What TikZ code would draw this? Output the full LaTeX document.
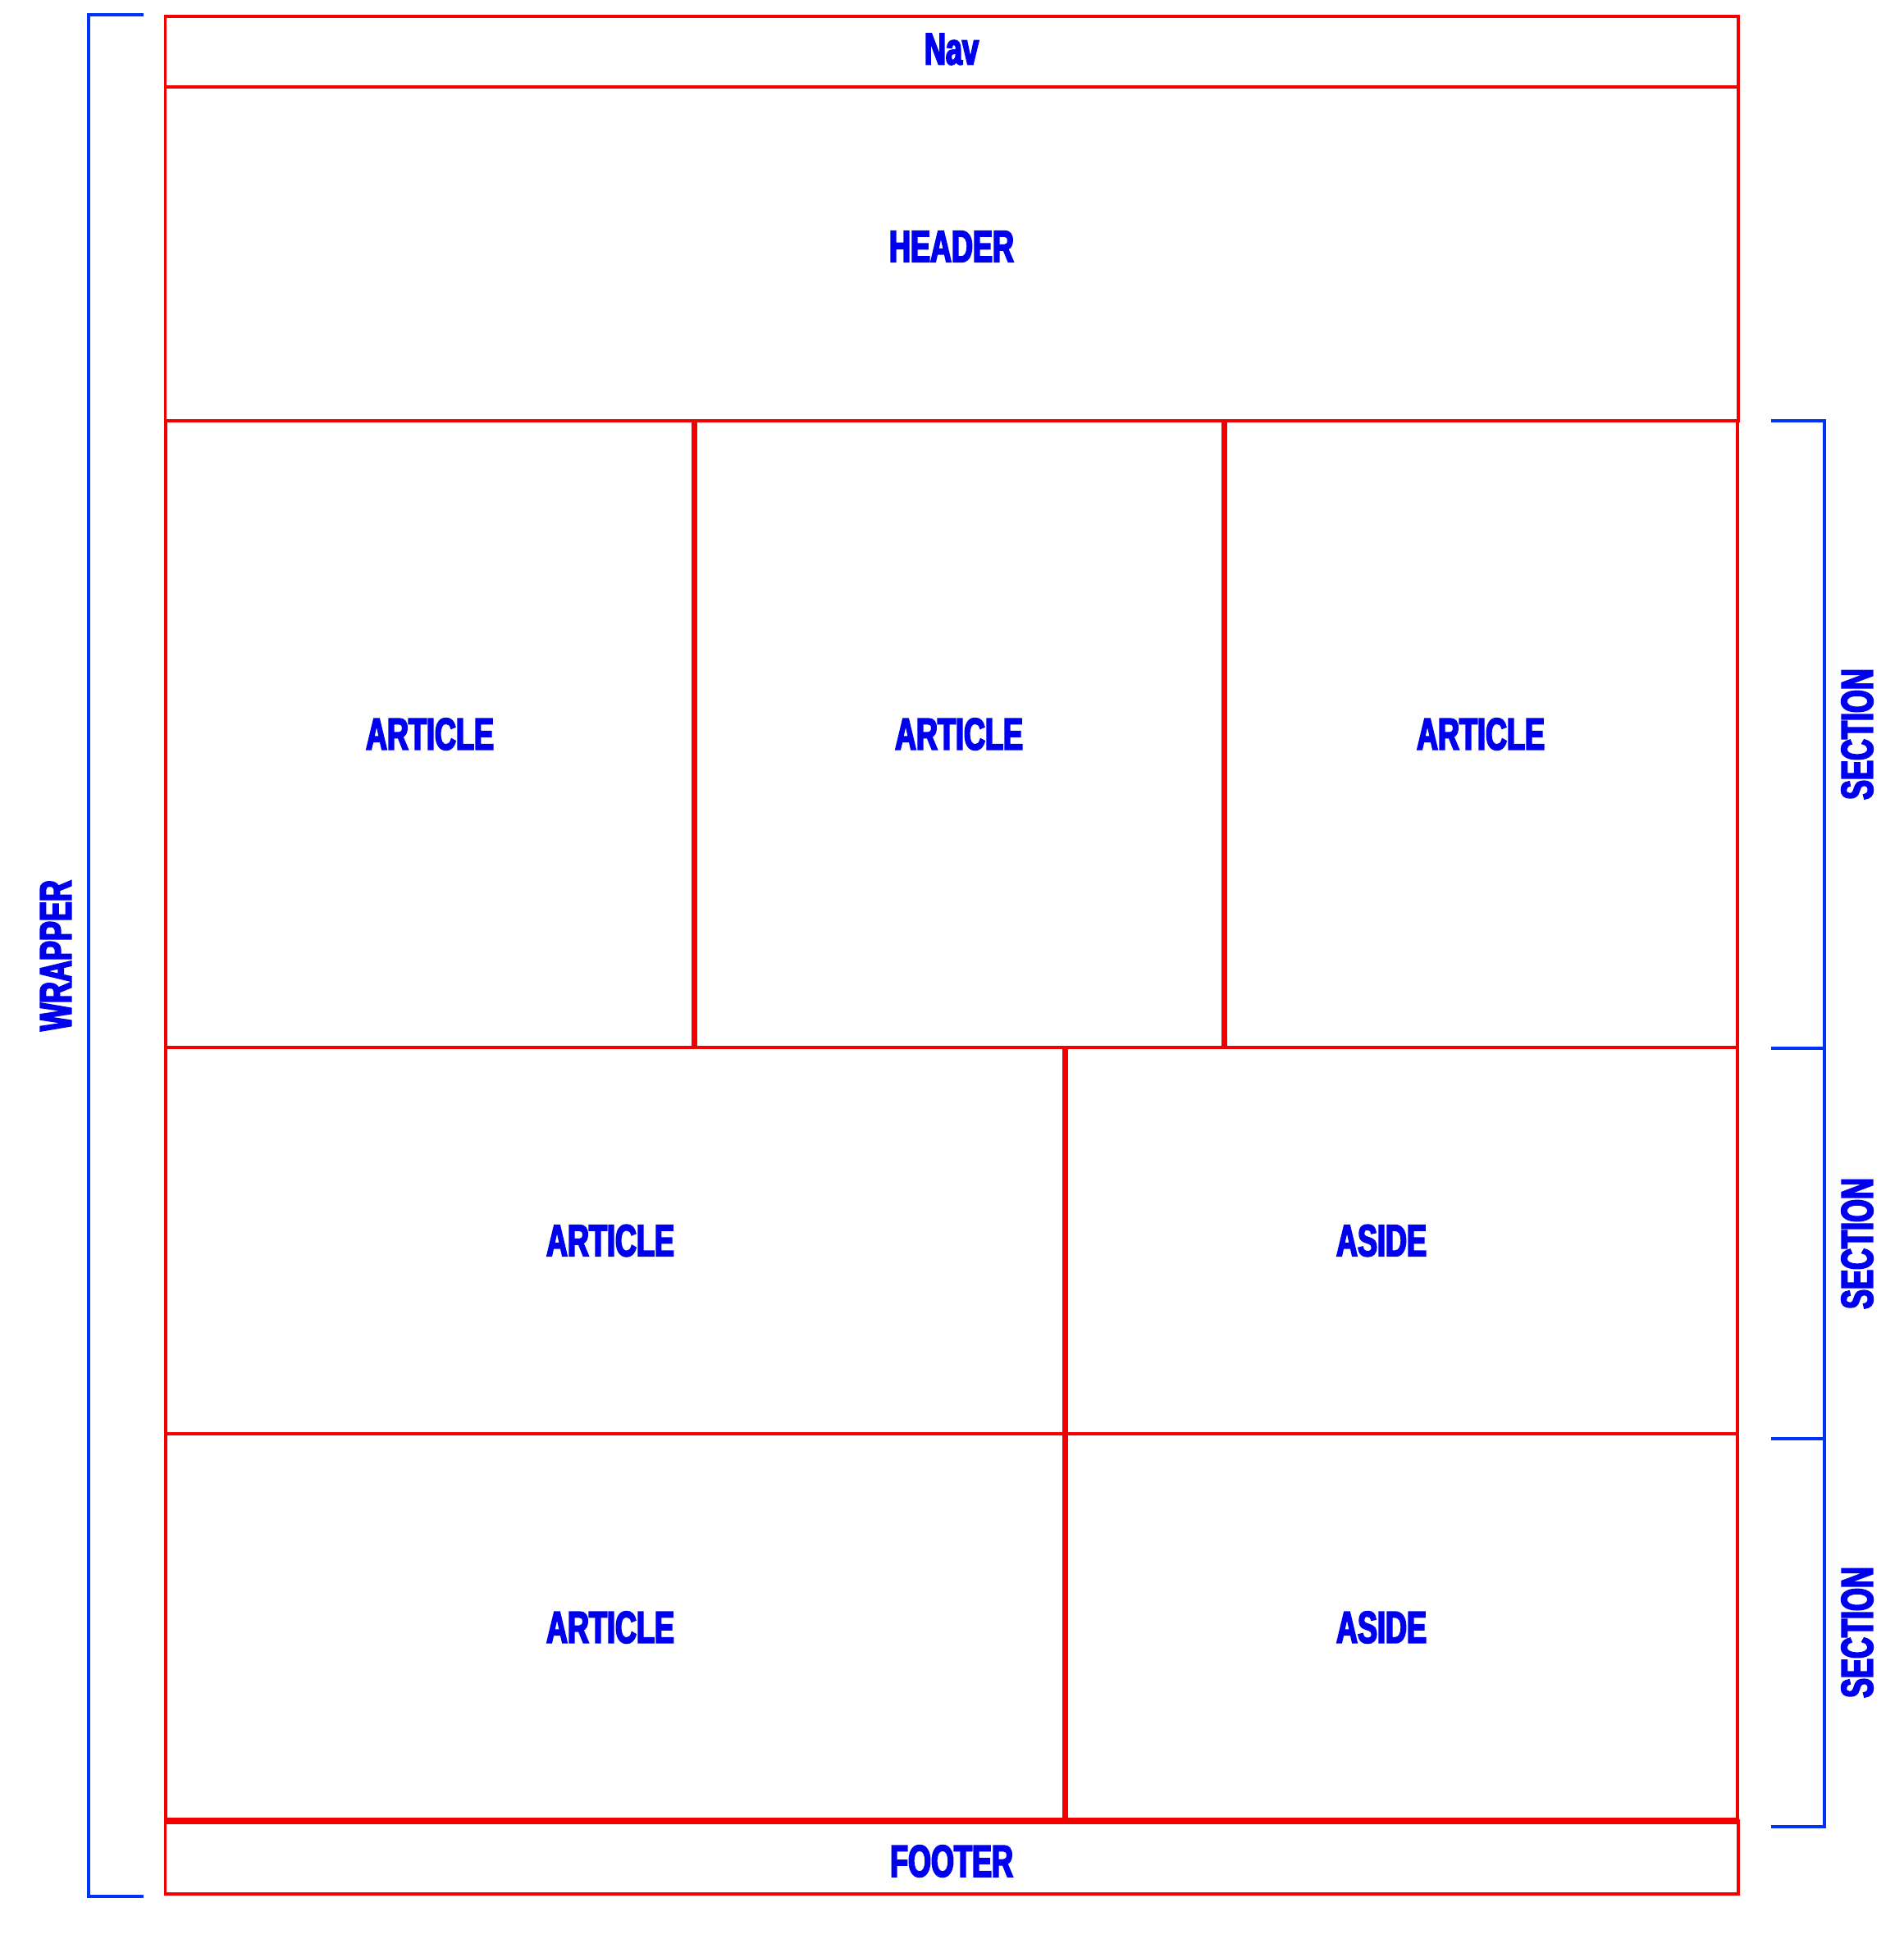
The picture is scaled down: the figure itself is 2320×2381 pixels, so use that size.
\documentclass[tikz,border=0pt]{standalone}
\usepackage{fontspec}
\usepackage{xcolor}
\usepackage{tikz}
\newfontfamily\labelfont[FakeStretch=0.66,FakeBold=3.5]{Liberation Sans}
\definecolor{layoutred}{RGB}{245,0,0}
\definecolor{textblue}{RGB}{0,0,240}
\definecolor{braceblue}{RGB}{0,51,250}

\begin{document}
\begin{tikzpicture}[
  x=0.01cm, y=-0.01cm,
  cell/.style={rectangle, draw=layoutred, line width=1.1pt, inner sep=0pt, outer sep=0pt},
  lbl/.style={inner sep=0pt, text=textblue, font=\labelfont\bfseries\fontsize{15.5}{18}\selectfont},
  divider/.style={draw=layoutred, line width=2.1pt},
  brace/.style={draw=braceblue, line width=1.1pt},
  tag/.style={lbl, rotate=90}
]
\useasboundingbox (0,0) rectangle (2320,2381);

\node[cell, minimum width=19.16cm, minimum height=0.86cm,
  label={[lbl, yshift=0.03cm]center:Nav}] (nav) at (1160,63) {};
\node[cell, minimum width=19.16cm, minimum height=4.07cm,
  label={[lbl, yshift=0.09cm]center:HEADER}] (header) at (1160,309.5) {};

\node[cell, minimum width=6.44cm, minimum height=7.64cm,
  label={[lbl]center:ARTICLE}] (art1) at (524,895) {};
\node[cell, minimum width=6.46cm, minimum height=7.64cm,
  label={[lbl]center:ARTICLE}] (art2) at (1169,895) {};
\node[cell, minimum width=6.26cm, minimum height=7.64cm,
  label={[lbl]center:ARTICLE}] (art3) at (1805,895) {};

\node[cell, minimum width=10.96cm, minimum height=4.71cm,
  label={[lbl, xshift=-0.06cm]center:ARTICLE}] (art4) at (750,1512.5) {};
\node[cell, minimum width=8.20cm, minimum height=4.71cm,
  label={[lbl, xshift=-0.24cm]center:ASIDE}] (aside1) at (1708,1512.5) {};

\node[cell, minimum width=10.96cm, minimum height=4.72cm,
  label={[lbl, xshift=-0.06cm]center:ARTICLE}] (art5) at (750,1984) {};
\node[cell, minimum width=8.20cm, minimum height=4.72cm,
  label={[lbl, xshift=-0.24cm]center:ASIDE}] (aside2) at (1708,1984) {};

\node[cell, minimum width=19.16cm, minimum height=0.89cm,
  label={[lbl, yshift=-0.045cm]center:FOOTER}] (footer) at (1160,2264.5) {};

\draw[divider] (art1.north east) -- (art1.south east);
\draw[divider] (art2.north east) -- (art2.south east);
\draw[divider] (art4.north east) -- (art5.south east);
\draw[divider] (footer.north west) -- (footer.north east);

% wrapper bracket
\draw[brace] (175,18) -| (108,2312) -- (175,2312);
\node[tag] (wrapper) at (68,1165) {WRAPPER};

% section brackets
\foreach \ya/\yb/\ym in {513/1278/895, 1278/1754/1516, 1754/2227/1990} {
  \draw[brace] (2159,\ya) -| (2224,\yb) -- (2159,\yb);
  \node[tag] (sec\ya) at (2264,\ym) {SECTION};
}

\end{tikzpicture}
\end{document}
